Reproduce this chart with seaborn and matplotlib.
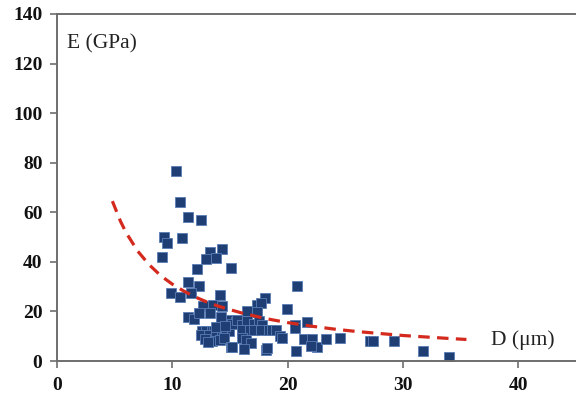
import matplotlib
matplotlib.use("Agg")
import matplotlib.pyplot as plt
import seaborn as sns
import pandas as pd

# scatter: fibre diameter D (um) vs modulus E (GPa)
d_um = [10.3, 10.7, 11.4, 12.5, 9.3, 9.5, 10.8, 9.1, 13.3, 14.3, 12.9, 13.8,
        15.1, 12.1, 11.4, 12.3, 9.9, 10.7, 11.6, 14.1, 12.7, 13.5, 14.3, 11.4,
        11.9, 12.3, 13.3, 14.2, 15.1, 15.5, 12.6, 12.9, 13.4, 13.6, 14.1, 14.5,
        14.9, 12.5, 13.2, 13.8, 14.3, 13.4, 14.1, 14.5, 15.1, 20.8, 18.0, 17.3,
        17.7, 16.5, 17.3, 19.9, 15.2, 15.6, 16.0, 16.5, 17.1, 17.5, 17.8, 16.0,
        16.7, 17.1, 17.7, 18.4, 18.6, 19.0, 19.3, 19.5, 20.6, 20.6, 21.7, 21.4,
        22.1, 22.5, 22.0, 23.3, 20.7, 16.0, 16.4, 16.8, 16.2, 15.2, 18.1, 18.2,
        24.5, 27.1, 27.4, 29.2, 31.7, 34.0, 13.8, 14.6, 12.8, 13.1]
e_gpa = [76.5, 64.0, 58.0, 57.0, 50.0, 47.5, 49.5, 42.0, 44.0, 45.0, 41.0, 41.7,
         37.6, 37.0, 32.0, 30.3, 27.5, 26.0, 27.5, 26.7, 22.0, 22.7, 22.0, 17.8,
         17.0, 19.4, 19.4, 17.8, 16.6, 15.8, 12.1, 12.1, 12.1, 12.1, 12.1, 12.1,
         12.1, 10.5, 10.5, 10.5, 10.5, 8.1, 8.5, 9.3, 5.7, 30.4, 25.5, 22.7,
         23.5, 20.2, 19.8, 21.0, 15.0, 16.6, 14.5, 16.0, 14.8, 16.2, 14.6, 12.5,
         12.5, 12.5, 12.5, 12.5, 12.5, 12.5, 10.1, 9.3, 14.6, 13.4, 15.8, 8.9,
         8.9, 5.7, 6.1, 8.9, 4.0, 9.3, 8.5, 7.3, 4.9, 5.7, 4.5, 5.3,
         9.3, 8.1, 8.1, 8.1, 4.0, 1.6, 13.6, 14.0, 9.0, 7.7]

# dashed trend curve
fit_d = [4.8, 5.5, 6.0, 7.0, 8.0, 9.0, 10.0, 11.0, 12.0, 13.0, 14.0, 16.0,
         18.0, 20.0, 22.0, 24.0, 26.0, 28.0, 30.0, 32.0, 34.0, 35.5]
fit_e = [64.5, 56.4, 51.7, 44.3, 38.8, 34.4, 31.0, 28.2, 25.8, 23.8, 22.1, 19.4,
         17.2, 15.5, 14.1, 12.9, 11.9, 11.1, 10.3, 9.7, 9.1, 8.7]

pts = pd.DataFrame({"D": d_um, "E": e_gpa})
fit = pd.DataFrame({"D": fit_d, "E": fit_e})

sns.set_style("white")
fig = plt.figure(figsize=(5.76, 3.95), dpi=100)
ax = fig.add_axes([0.0990, 0.086, 0.9010, 0.8786])

sns.lineplot(data=fit, x="D", y="E", ax=ax, color="#d42a1e", linewidth=2.3,
             sort=False, zorder=3)
ax.lines[-1].set_dashes((3.6, 2.3))
sns.scatterplot(data=pts, x="D", y="E", ax=ax, marker="s", s=50,
                color="#1f3f74", edgecolor="#5a7db5", linewidth=0.6, zorder=2)

ax.set_xlim(0, 45)
ax.set_ylim(0, 140)
ax.set_xticks([0, 10, 20, 30, 40])
ax.set_yticks(range(0, 141, 20))
ax.set_xlabel("")
ax.set_ylabel("")

for side in ["left", "bottom", "top"]:
    ax.spines[side].set_color("#6e6e6e")
    ax.spines[side].set_linewidth(1.4)
ax.spines["right"].set_visible(False)

ax.tick_params(axis="both", direction="out", length=5, width=1.2,
               color="#6e6e6e", left=True, bottom=True)
ax.tick_params(axis="y", pad=5.5)
ax.tick_params(axis="x", pad=6.5)
for lab in ax.get_xticklabels() + ax.get_yticklabels():
    lab.set_fontfamily("Liberation Serif")
    lab.set_fontweight("bold")
    lab.set_fontsize(14)
    lab.set_color("#111111")

ax.text(0.9, 128, "E (GPa)", fontfamily="Liberation Serif", fontsize=15.5,
        va="center", ha="left", color="#222222")
ax.text(37.6, 8.5, "D (\u03bcm)", fontfamily="Liberation Serif", fontsize=15.5,
        va="center", ha="left", color="#222222")

fig.savefig("out.png", dpi=100)
